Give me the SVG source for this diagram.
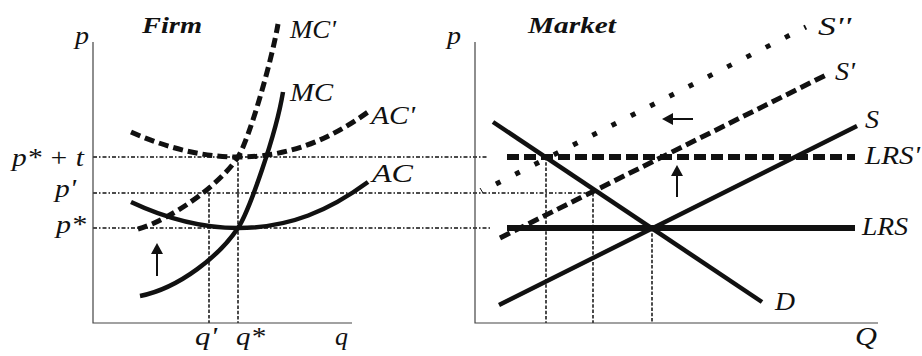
<svg xmlns="http://www.w3.org/2000/svg" width="922" height="356" viewBox="0 0 922 356">
<defs>
<style>
.lbl{font-family:"Liberation Serif","Times New Roman",serif;font-style:italic;font-size:24.5px;fill:#111}
.ttl{font-family:"Liberation Serif","Times New Roman",serif;font-style:italic;font-weight:bold;font-size:24px;fill:#111}
.axis{stroke:#444;stroke-width:1.2;fill:none}
.guide{stroke:#111;stroke-width:1.5;fill:none;stroke-dasharray:4 2 1.5 2}
.vguide{stroke:#111;stroke-width:1.5;fill:none;stroke-dasharray:3.5 1.8}
.solid{stroke:#111;stroke-width:4.5;fill:none}
.dash{stroke:#111;stroke-width:5;fill:none;stroke-dasharray:10 5}
.dots{stroke:#111;stroke-width:5;fill:none;stroke-dasharray:5 16.6}
.arr{stroke:#111;stroke-width:2;fill:none}
.head{fill:#111}
</style>
</defs>
<rect width="922" height="356" fill="#fff"/>

<g id="guides">
<line class="guide" x1="93" y1="157" x2="488" y2="157"/>
<line class="guide" x1="93" y1="193" x2="593" y2="193"/>
<line class="guide" x1="93" y1="228" x2="490" y2="228"/>
<line class="vguide" x1="209" y1="193" x2="209" y2="323"/>
<line class="vguide" x1="238" y1="157" x2="238" y2="323"/>
<line class="vguide" x1="546" y1="157" x2="546" y2="323"/>
<line class="vguide" x1="593" y1="193" x2="593" y2="323"/>
<line class="vguide" x1="652" y1="228" x2="652" y2="323"/>
</g>

<g id="firm-axes">
<polyline class="axis" points="93,42 93,323 352,323"/>
<text class="lbl" x="75" y="44" textLength="14" lengthAdjust="spacingAndGlyphs">p</text>
<text class="lbl" x="335" y="345" textLength="13" lengthAdjust="spacingAndGlyphs">q</text>
<text class="ttl" x="142" y="33" textLength="60" lengthAdjust="spacingAndGlyphs">Firm</text>
<text class="lbl" x="12" y="166" textLength="72" lengthAdjust="spacingAndGlyphs">p* + t</text>
<text class="lbl" x="55" y="197" textLength="21" lengthAdjust="spacingAndGlyphs">p'</text>
<text class="lbl" x="56" y="233" textLength="30" lengthAdjust="spacingAndGlyphs">p*</text>
<text class="lbl" x="195" y="345" textLength="22" lengthAdjust="spacingAndGlyphs">q'</text>
<text class="lbl" x="236" y="345" textLength="29" lengthAdjust="spacingAndGlyphs">q*</text>
</g>

<g id="MC">
<path class="solid" d="M140,296 C180,288 220,255 238,228 C249,211 276,135 283,92"/>
<text class="lbl" x="290" y="101" textLength="43" lengthAdjust="spacingAndGlyphs">MC</text>
</g>
<g id="MC-prime">
<path class="dash" d="M138,229 C170,220 220,185 238,157 C249,140 272,60 278,24"/>
<text class="lbl" x="290" y="38" textLength="46" lengthAdjust="spacingAndGlyphs">MC'</text>
</g>
<g id="AC">
<path class="solid" d="M131,202 C165,218 200,228 238,228 C290,228 330,210 368,182"/>
<text class="lbl" x="372" y="182" textLength="41" lengthAdjust="spacingAndGlyphs">AC</text>
</g>
<g id="AC-prime">
<path class="dash" d="M131,132 C165,147 200,157 238,157 C290,157 330,139 368,112"/>
<text class="lbl" x="371" y="124" textLength="44" lengthAdjust="spacingAndGlyphs">AC'</text>
</g>
<g id="firm-arrow">
<line class="arr" x1="157" y1="276" x2="157" y2="252"/>
<polygon class="head" points="157,243 151,254 163,254"/>
</g>

<g id="market-axes">
<polyline class="axis" points="475,42 475,323 878,323"/>
<text class="lbl" x="447" y="44" textLength="14" lengthAdjust="spacingAndGlyphs">p</text>
<text class="lbl" x="855" y="345" textLength="22" lengthAdjust="spacingAndGlyphs">Q</text>
<text class="ttl" x="528" y="33" textLength="88" lengthAdjust="spacingAndGlyphs">Market</text>
</g>

<g id="D">
<line class="solid" x1="493" y1="122" x2="762" y2="302"/>
<text class="lbl" x="775" y="310" textLength="20" lengthAdjust="spacingAndGlyphs">D</text>
</g>
<g id="S">
<line class="solid" x1="499" y1="305" x2="857" y2="126"/>
<text class="lbl" x="865" y="128" textLength="14" lengthAdjust="spacingAndGlyphs">S</text>
</g>
<g id="S-prime">
<line class="dash" x1="500" y1="238" x2="826" y2="75" style="stroke-dasharray:11 5"/>
<text class="lbl" x="835" y="80" textLength="20" lengthAdjust="spacingAndGlyphs">S'</text>
</g>
<g id="S-double-prime">
<line class="dots" x1="496" y1="184" x2="806" y2="27"/>
<line stroke="#111" stroke-width="1" x1="480" y1="188" x2="483" y2="193"/>
<text class="lbl" x="818" y="35" textLength="33" lengthAdjust="spacingAndGlyphs">S''</text>
</g>
<g id="LRS">
<line class="solid" x1="507" y1="228" x2="855" y2="228" style="stroke-width:6"/>
<text class="lbl" x="862" y="235" textLength="46" lengthAdjust="spacingAndGlyphs">LRS</text>
</g>
<g id="LRS-prime">
<line class="dash" x1="507" y1="157" x2="855" y2="157" style="stroke-width:6;stroke-dasharray:12 5"/>
<text class="lbl" x="865" y="164" textLength="55" lengthAdjust="spacingAndGlyphs">LRS'</text>
</g>
<g id="market-arrows">
<line class="arr" x1="693" y1="119" x2="670" y2="119"/>
<polygon class="head" points="662,119 673,113 673,125"/>
<line class="arr" x1="677" y1="197" x2="677" y2="174"/>
<polygon class="head" points="677,165 671,176 683,176"/>
</g>
</svg>
